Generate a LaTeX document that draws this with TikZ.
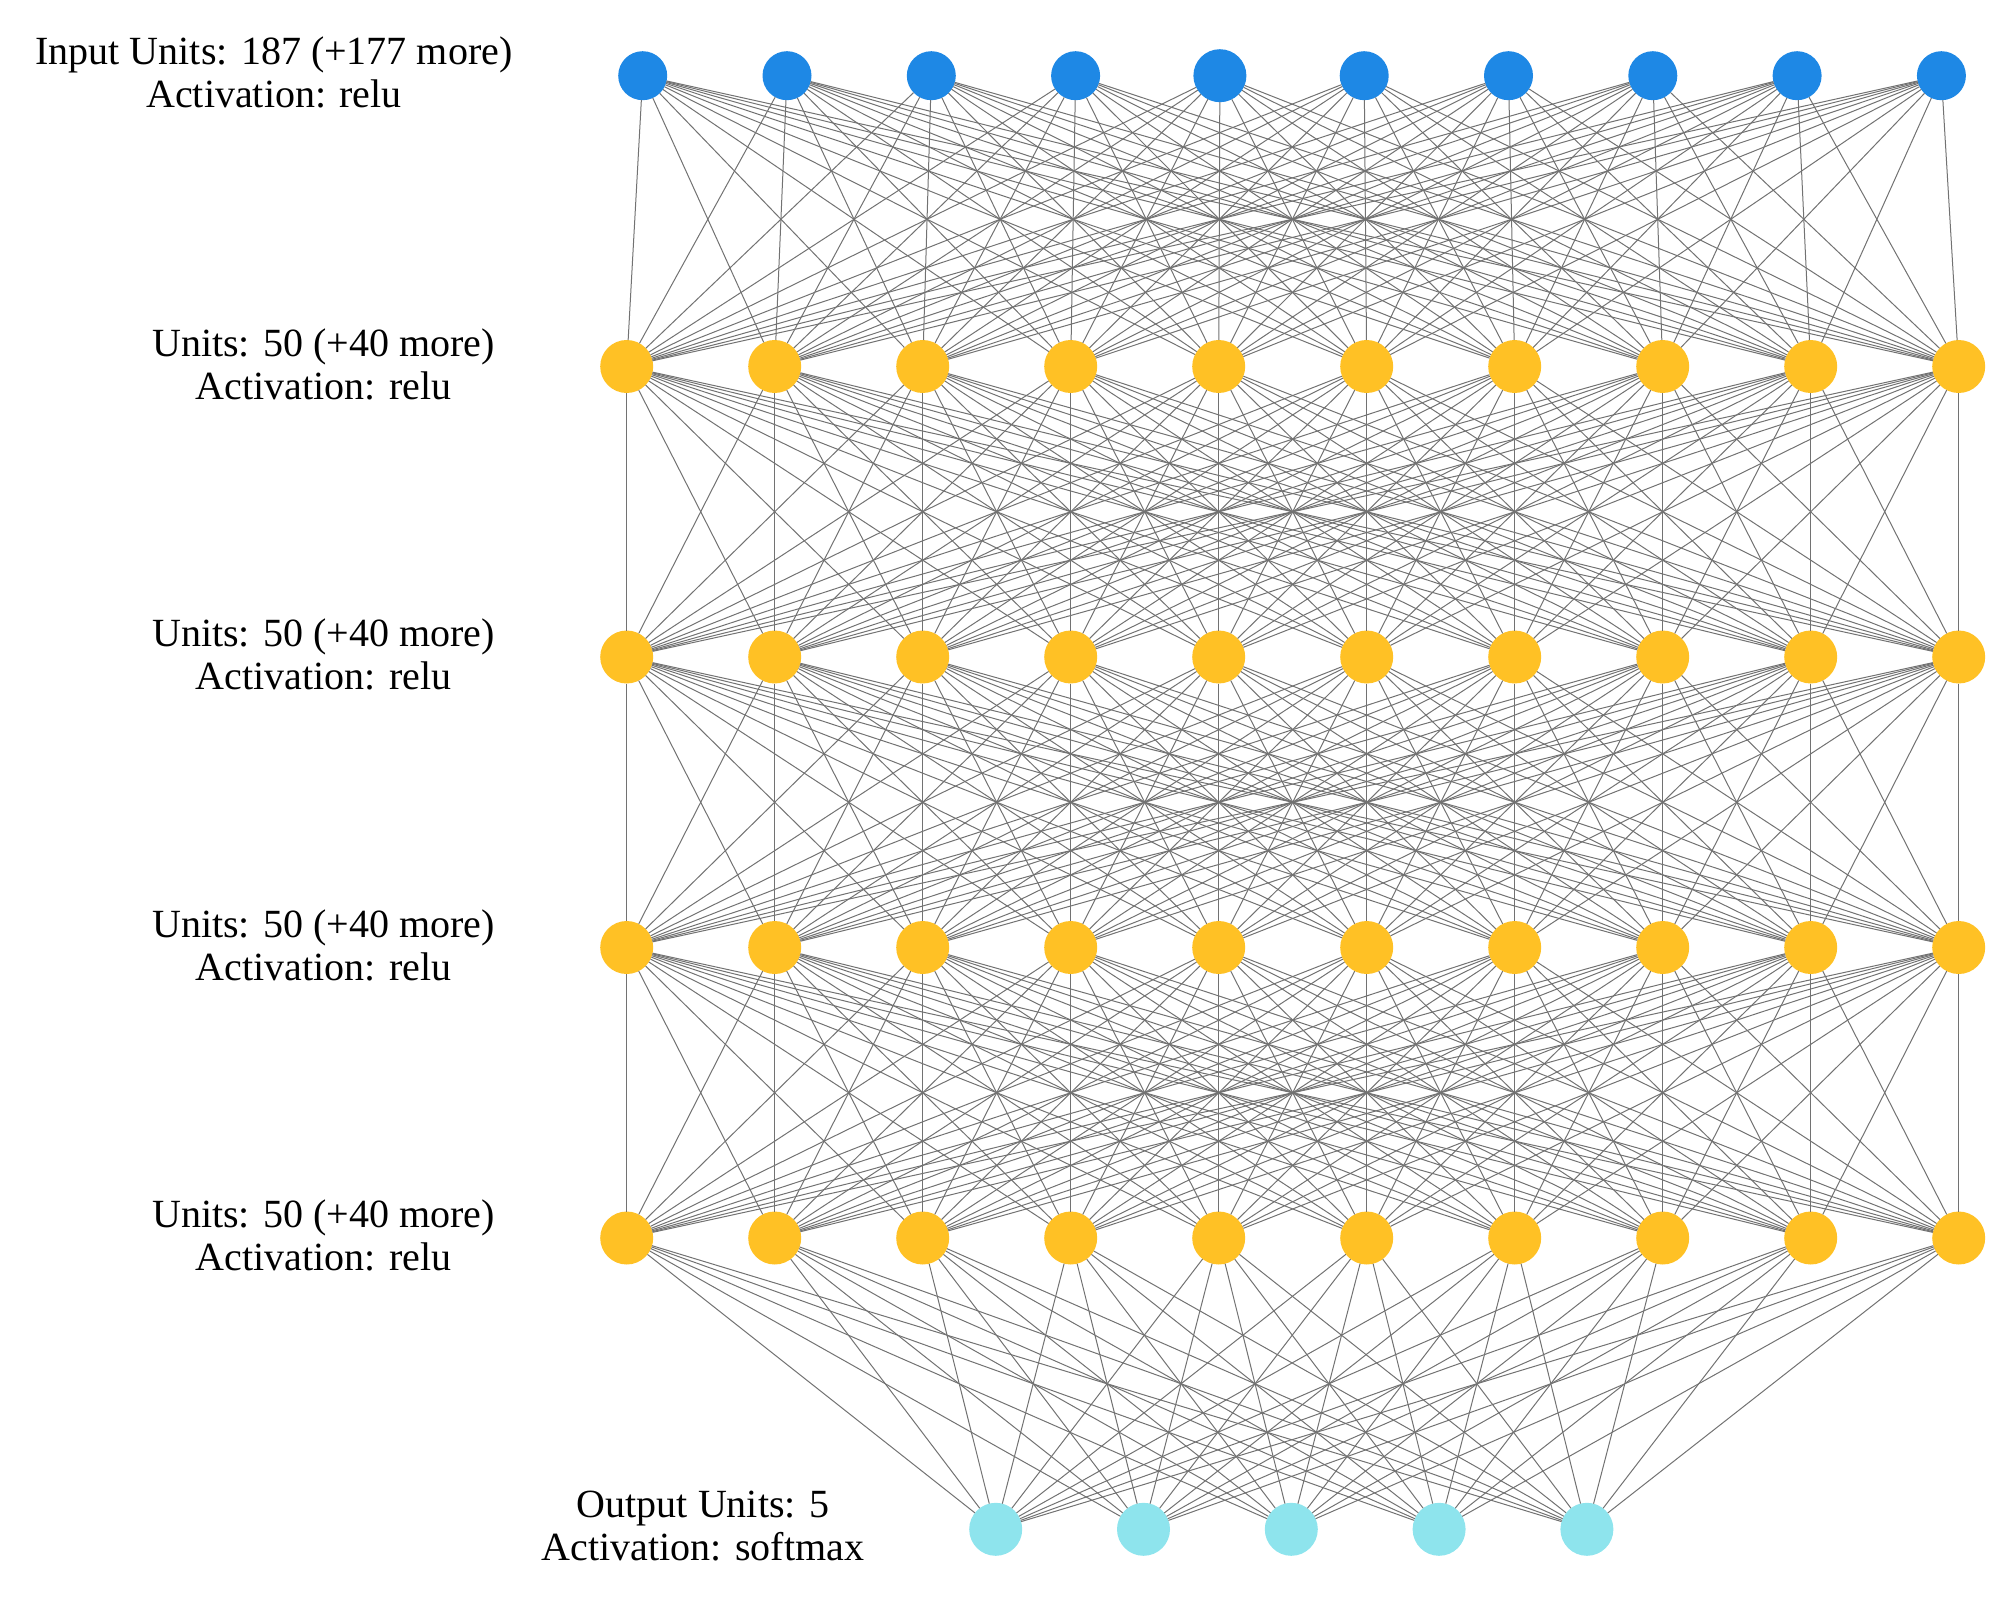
\documentclass[tikz,border=0pt]{standalone}
\usepackage{fontspec}
\setmainfont{Liberation Serif}
\definecolor{inblue}{HTML}{1E88E5}
\definecolor{hidyel}{HTML}{FFC125}
\definecolor{outcyan}{HTML}{8EE4ED}
\definecolor{edgegray}{HTML}{727272}
\begin{document}
\begin{tikzpicture}[x=1pt,y=-1pt,
  unit/.style={circle,inner sep=0pt,outer sep=0pt,draw=none},
  inunit/.style={unit,fill=inblue,minimum size=49pt},
  bigin/.style={unit,fill=inblue,minimum size=53pt},
  hidunit/.style={unit,fill=hidyel,minimum size=53pt},
  outunit/.style={unit,fill=outcyan,minimum size=53pt},
  conn/.style={draw=edgegray,line width=1pt},
  layerlabel/.style={align=center,anchor=base,font=\fontsize{40}{43}\selectfont,inner sep=0pt}]
\useasboundingbox (0,0) rectangle (2011,1605);
% input layer
\foreach \i in {1,...,10}{
  \ifnum\i=5
    \node[bigin] (in\i) at ({642.7+(\i-1)*144.3},75.7) {};
  \else
    \node[inunit] (in\i) at ({642.7+(\i-1)*144.3},75.7) {};
  \fi
}
% hidden layers
\foreach \l/\y in {1/366.5,2/657,3/947.5,4/1238}{
  \foreach \i in {1,...,10}{
    \node[hidunit] (h\l x\i) at ({626.7+(\i-1)*148},\y) {};
  }
}
% output layer
\foreach \i in {1,...,5}{
  \node[outunit] (out\i) at ({995.7+(\i-1)*147.8},1529.3) {};
}
% connections
\foreach \a in {1,...,10}{
  \foreach \b in {1,...,10}{
    \draw[conn] (in\a) -- (h1x\b);
    \draw[conn] (h1x\a) -- (h2x\b);
    \draw[conn] (h2x\a) -- (h3x\b);
    \draw[conn] (h3x\a) -- (h4x\b);
  }
  \foreach \b in {1,...,5}{
    \draw[conn] (h4x\a) -- (out\b);
  }
}
% labels (anchor=base is the baseline of the last line)
\node[layerlabel] (lin) at (274,108) {Input Units: 187 (+177 more)\\Activation: relu};
\node[layerlabel] (lh1) at (323.5,399) {Units: 50 (+40 more)\\Activation: relu};
\node[layerlabel] (lh2) at (323.5,689.5) {Units: 50 (+40 more)\\Activation: relu};
\node[layerlabel] (lh3) at (323.5,980) {Units: 50 (+40 more)\\Activation: relu};
\node[layerlabel] (lh4) at (323.5,1270.5) {Units: 50 (+40 more)\\Activation: relu};
\node[layerlabel] (lout) at (703,1560) {Output Units: 5\\Activation: softmax};
\end{tikzpicture}
\end{document}
